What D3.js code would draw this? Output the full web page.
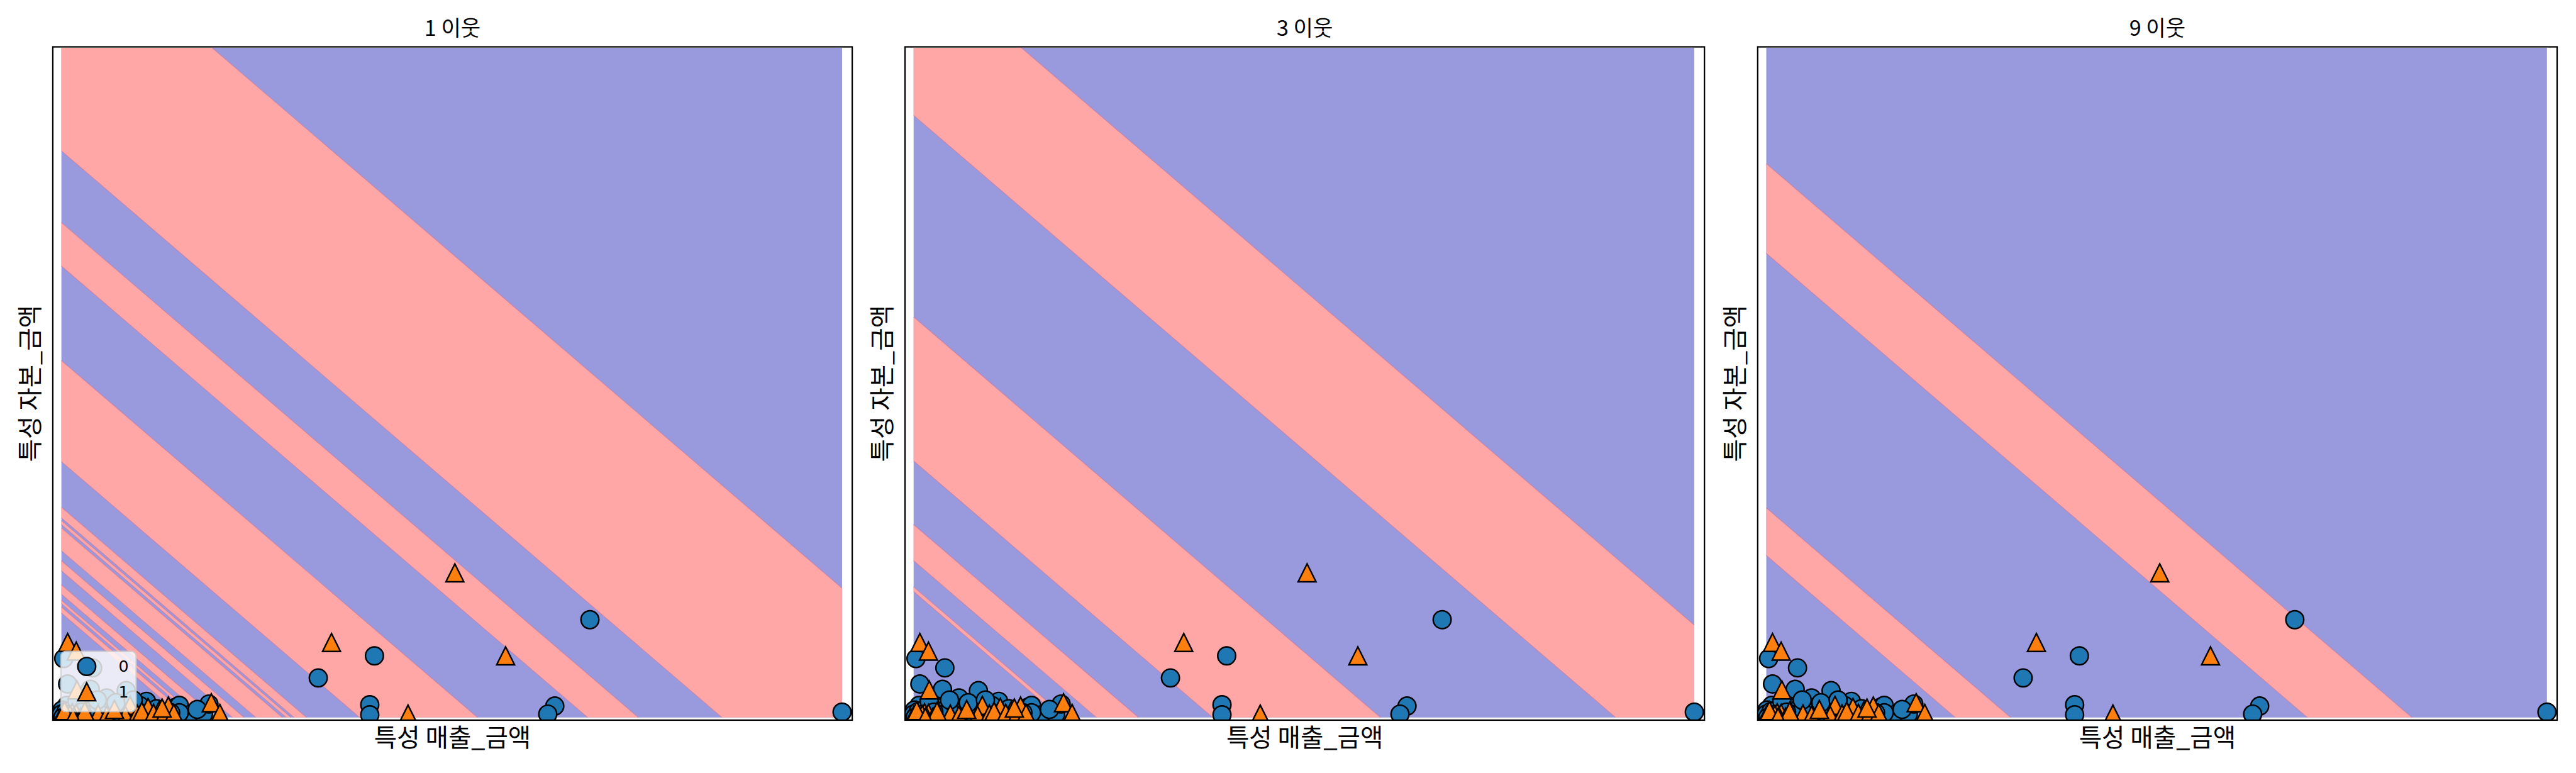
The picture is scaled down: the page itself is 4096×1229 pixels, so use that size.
<!DOCTYPE html>
<html><head><meta charset="utf-8">
<script src="https://cdn.jsdelivr.net/npm/d3@7"></script>
<style>html,body{margin:0;padding:0;background:#fff;overflow:hidden}</style>
</head><body>
<svg id="chart"></svg>
<script>
// ---------------- data ----------------
const panelTitles = ["1 이웃", "3 이웃", "9 이웃"];
const xLabel = "특성 매출_금액";
const yLabel = "특성 자본_금액";
const classNames = ["0", "1"];

// training points (feature units), class 0 = circle, class 1 = triangle
const class0X = [67.7,40.1,32.9,39.5,39.5,63.2,62.3,100,
  0.3,4.0,0.8,3.7,8.3,5.8,10.9,10.0,14.6,15.1,16.6,18.2,18.9,
  0.7,0.1,2.9,4.3,6.3,6.0,8.2,9.9,7.8,5.1,3.4,1.8,0.0,15.1,14.0,11.6,
  0.3,1.0,0.6,2.3,1.4,2.0,4.6,7.0,9.2,12.2,13.0,17.4,0.2,1.6,2.6,0.9];
const class0Y = [14.6,9.2,5.9,1.9,0.4,1.7,0.5,0.8,
  8.8,7.4,5.0,4.2,4.0,2.9,2.4,1.8,1.5,1.8,0.5,0.5,2.0,
  1.8,1.1,1.5,1.5,1.5,0.7,1.1,0.8,0.4,0.4,0.4,0.6,0.5,0.7,0.7,0.7,
  0.2,0.1,0.9,0.2,1.2,2.4,2.6,2.2,2.6,1.3,0.3,1.2,0.0,0.0,0.8,0.4];
const class1X = [50.4,34.6,56.9,44.4,
  0.8,1.9,2.0,8.8,11.1,13.7,12.5,19.2,20.3,
  0.0,1.9,4.7,5.8,8.2,9.7,10.3,11.8,13.2,14.4,1.4,
  0.6,1.1,2.5,3.0,6.8,12.9,0.4,1.5];
const class1Y = [21.6,11.2,9.2,0.5,
  11.2,9.9,4.1,1.8,1.5,1.7,1.0,2.2,0.6,
  0.3,0.6,0.5,0.3,0.3,0.5,0.9,0.6,0.5,0.6,0.7,
  0.2,0.4,0.1,0.9,1.2,1.4,1.0,0.0];

// decision regions: the prediction depends on (매출 + 자본); intervals predicted as class 1
const class1Bands = [
  [[15.6,16.5],[17.0,17.5],[18.4,19.8],[21.9,23.4],[24.9,28.3],[28.8,29.4],[29.8,31.4],[38.2,53.3],[67.4,73.9],[84.6,119.3]],
  [[18.8,19.5],[23.4,28.8],[38.3,59.8],[89.9,113.8]],
  [[24.2,31.3],[69.3,82.7]]
];
const gridX = [0, 100];
const gridY = [0, 100];
const xLim = [-1.1, 101.3];
const yLim = [-0.4, 100.13];

// ---------------- layout (reference pixels, scaled by viewBox) ----------------
const W = 6000, H = 1800;
const axesLeft = [123, 2108, 4094];
const axesW = 1862, axesTop = 109, axesBottom = 1677;
const color0 = "#1f77b4", color1 = "#ff7f0e";
const regionBlue = "#9999dd", regionPink = "#ffa6a6";
const font = "'Noto Sans CJK KR', 'Noto Sans', sans-serif";
const msize = 41.7, medge = 3.6;

const svg = d3.select("#chart")
  .attr("width", 4096).attr("height", 1229)
  .attr("viewBox", `0 0 ${W} ${H}`);

function clipPoly(poly, f) {
  const out = [];
  for (let i = 0; i < poly.length; i++) {
    const a = poly[i], b = poly[(i + 1) % poly.length];
    const fa = f(a), fb = f(b);
    if (fa >= 0) out.push(a);
    if ((fa >= 0) !== (fb >= 0)) {
      const t = fa / (fa - fb);
      out.push([a[0] + t * (b[0] - a[0]), a[1] + t * (b[1] - a[1])]);
    }
  }
  return out;
}

const triPath = (() => { const h = msize / 2; return `M0,${-h}L${-h},${h}L${h},${h}Z`; })();

panelTitles.forEach((title, pi) => {
  const x = d3.scaleLinear().domain(xLim).range([axesLeft[pi], axesLeft[pi] + axesW]);
  const y = d3.scaleLinear().domain(yLim).range([axesBottom, axesTop]);
  const g = svg.append("g");
  const clipId = "clip" + pi;
  svg.append("clipPath").attr("id", clipId).append("rect")
    .attr("x", axesLeft[pi]).attr("y", axesTop).attr("width", axesW).attr("height", axesBottom - axesTop);

  const square = [[gridX[0], gridY[0]], [gridX[1], gridY[0]], [gridX[1], gridY[1]], [gridX[0], gridY[1]]];
  const line = d3.line().x(d => x(d[0])).y(d => y(d[1]));
  // background (class 0 region)
  g.append("path").attr("d", line(square) + "Z").attr("fill", regionBlue);
  // class 1 bands
  class1Bands[pi].forEach(([s1, s2]) => {
    let poly = clipPoly(square, p => p[0] + p[1] - s1);
    poly = clipPoly(poly, p => s2 - (p[0] + p[1]));
    if (poly.length > 2) g.append("path").attr("d", line(poly) + "Z").attr("fill", regionPink);
  });
  // seams along boundaries
  class1Bands[pi].flat().forEach(s => {
    const seg = s <= 100 ? [[s, 0], [0, s]] : [[100, s - 100], [s - 100, 100]];
    g.append("path").attr("d", line(seg)).attr("stroke", "#c878a0").attr("stroke-width", 1.6)
      .attr("stroke-opacity", 0.7).attr("fill", "none");
  });

  // scatter
  const sg = g.append("g").attr("clip-path", `url(#${clipId})`);
  class0X.forEach((vx, i) => {
    sg.append("circle").attr("cx", x(vx)).attr("cy", y(class0Y[i])).attr("r", msize / 2)
      .attr("fill", color0).attr("stroke", "#000").attr("stroke-width", medge);
  });
  class1X.forEach((vx, i) => {
    sg.append("path").attr("d", triPath).attr("transform", `translate(${x(vx)},${y(class1Y[i])})`)
      .attr("fill", color1).attr("stroke", "#000").attr("stroke-width", medge).attr("stroke-linejoin", "miter");
  });

  // frame
  g.append("rect").attr("x", axesLeft[pi]).attr("y", axesTop).attr("width", axesW).attr("height", axesBottom - axesTop)
    .attr("fill", "none").attr("stroke", "#000").attr("stroke-width", 3.3);

  // texts
  const cx = axesLeft[pi] + axesW / 2;
  g.append("text").attr("x", cx).attr("y", 83).attr("text-anchor", "middle")
    .attr("font-family", font).attr("font-size", 50).text(title);
  g.append("text").attr("x", cx).attr("y", 1738).attr("text-anchor", "middle")
    .attr("font-family", font).attr("font-size", 58).text(xLabel);
  const ly = (axesTop + axesBottom) / 2, lx = axesLeft[pi] - 58;
  g.append("text").attr("transform", `translate(${lx},${ly}) rotate(-90)`)
    .attr("text-anchor", "middle").attr("dominant-baseline", "central")
    .attr("font-family", font).attr("font-size", 58).text(yLabel);

  // legend in first panel
  if (pi === 0) {
    const lg = g.append("g");
    lg.append("rect").attr("x", 142).attr("y", 1517).attr("width", 175).attr("height", 140).attr("rx", 11)
      .attr("fill", "#fff").attr("fill-opacity", 0.8).attr("stroke", "#cccccc").attr("stroke-opacity", 0.8).attr("stroke-width", 3.3);
    const rows = [1552, 1611];
    lg.append("circle").attr("cx", 202).attr("cy", rows[0]).attr("r", msize / 2)
      .attr("fill", color0).attr("stroke", "#000").attr("stroke-width", medge);
    lg.append("path").attr("d", triPath).attr("transform", `translate(202,${rows[1]})`)
      .attr("fill", color1).attr("stroke", "#000").attr("stroke-width", medge);
    classNames.forEach((c, i) => {
      lg.append("text").attr("x", 288).attr("y", rows[i] + 13).attr("text-anchor", "middle")
        .attr("font-family", "'DejaVu Sans', sans-serif").attr("font-size", 37).text(c);
    });
  }
});
</script>
</body></html>
